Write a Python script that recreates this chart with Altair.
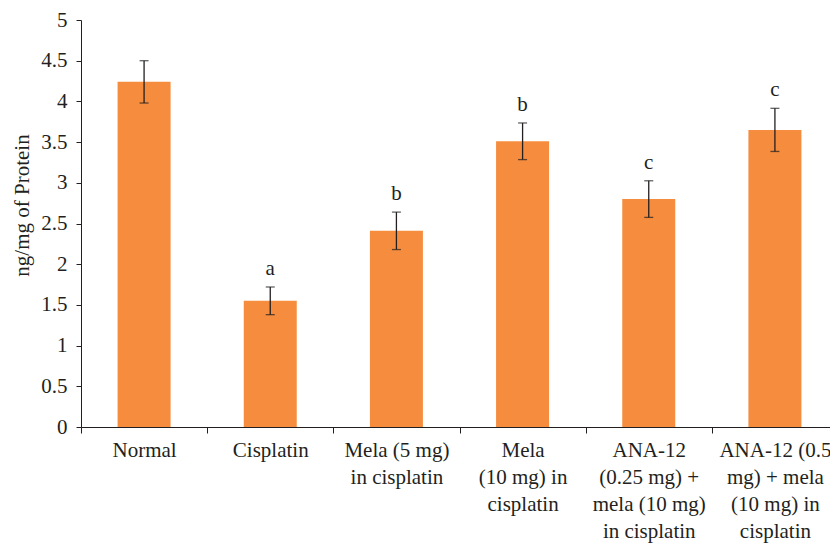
import altair as alt
import pandas as pd

categories = [
    "Normal",
    "Cisplatin",
    "Mela (5 mg)|in cisplatin",
    "Mela|(10 mg) in|cisplatin",
    "ANA-12|(0.25 mg) +|mela (10 mg)|in cisplatin",
    "ANA-12 (0.5|mg) + mela|(10 mg) in|cisplatin",
]
means = [4.24, 1.55, 2.41, 3.51, 2.80, 3.65]
errors = [0.26, 0.17, 0.23, 0.225, 0.225, 0.265]
letters = ["", "a", "b", "b", "c", "c"]
y_ticks = [0, 0.5, 1, 1.5, 2, 2.5, 3, 3.5, 4, 4.5, 5]

df = pd.DataFrame({"group": categories, "mean": means, "err": errors, "letter": letters})
df["lo"] = df["mean"] - df["err"]
df["hi"] = df["mean"] + df["err"]

FONT = "Liberation Serif"
INK = "#231f20"
FS = 21

x = alt.X(
    "group:N",
    sort=categories,
    scale=alt.Scale(range=[0, 757], paddingInner=0, paddingOuter=0),
    axis=alt.Axis(
        title=None,
        labelAngle=0,
        labelExpr="split(datum.label, '|')",
        labelLineHeight=27,
        labelFont=FONT,
        labelFontSize=FS,
        labelColor=INK,
        labelPadding=6,
        labelBaseline="top",
        tickBand="extent",
        tickSize=6,
        tickColor=INK,
        domainColor=INK,
        labelLimit=0,
    ),
)

y_axis = alt.Axis(
    values=y_ticks,
    format="~g",
    grid=False,
    tickSize=5,
    tickColor=INK,
    domainColor=INK,
    labelFont=FONT,
    labelFontSize=FS,
    labelColor=INK,
    labelPadding=9,
    title="ng/mg of Protein",
    titleFont=FONT,
    titleFontSize=FS,
    titleFontWeight="normal",
    titleColor=INK,
    titleAngle=270,
    titleX=-59,
    titleY=185,
    titleAlign="center",
    titleBaseline="middle",
)

base = alt.Chart(df)

bars = base.mark_bar(size=53, color="#F58C3E").encode(
    x=x,
    y=alt.Y("mean:Q", scale=alt.Scale(domain=[0, 5]), axis=y_axis),
)

rule = base.mark_rule(color=INK, strokeWidth=1.3).encode(
    x=x, y=alt.Y("lo:Q"), y2="hi:Q"
)
cap_hi = base.mark_tick(size=9, thickness=1.3, color=INK).encode(x=x, y="hi:Q")
cap_lo = base.mark_tick(size=9, thickness=1.3, color=INK).encode(x=x, y="lo:Q")

text = base.mark_text(font=FONT, fontSize=FS, color=INK, dy=-12, baseline="alphabetic").encode(
    x=x, y="hi:Q", text="letter:N"
)

chart = (
    alt.layer(bars, rule, cap_hi, cap_lo, text)
    .properties(
        width=749,
        height=407,
        padding={"left": 73, "top": 12, "right": 0, "bottom": 117},
        autosize=alt.AutoSizeParams(type="none"),
    )
    .configure_view(stroke=None)
)

chart.save("out.html", embed_options={"renderer": "svg", "actions": False})
